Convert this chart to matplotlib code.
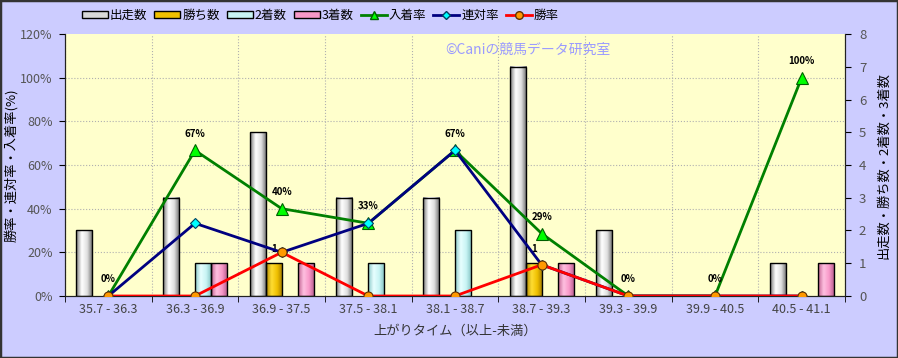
import numpy as np
import matplotlib
matplotlib.use('Agg')
import matplotlib.pyplot as plt
from matplotlib.colors import LinearSegmentedColormap
from matplotlib.lines import Line2D
from matplotlib.patches import Patch, Rectangle

plt.rcParams['font.family'] = ['Noto Sans CJK JP', 'DejaVu Sans']

# データ（上がりタイム別成績）
categories = ['35.7 - 36.3', '36.3 - 36.9', '36.9 - 37.5', '37.5 - 38.1', '38.1 - 38.7',
              '38.7 - 39.3', '39.3 - 39.9', '39.9 - 40.5', '40.5 - 41.1']
starts = [2, 3, 5, 3, 3, 7, 2, 0, 1]
wins = [0, 0, 1, 0, 0, 1, 0, 0, 0]
seconds = [0, 1, 0, 1, 2, 0, 0, 0, 0]
thirds = [0, 1, 1, 0, 0, 1, 0, 0, 1]
place_rate = [0, 66.7, 40, 33.3, 66.7, 28.6, 0, 0, 100]
quinella_rate = [0, 33.3, 20, 33.3, 66.7, 14.3, 0, 0, 0]
win_rate = [0, 0, 20, 0, 0, 14.3, 0, 0, 0]

x = np.arange(len(categories))
w = 0.185

fig = plt.figure(figsize=(8.98, 3.58), dpi=100, facecolor='#CCCCFF')
ax = fig.add_axes([0.0724, 0.1732, 0.8686, 0.7318])
ax.set_facecolor('#FFFFCC')
ax2 = ax.twinx()

# 棒グラフ（グラデーション付き）
bar_styles = [
    (starts, -1.5, ['#7a7a7a', '#ffffff', '#e0e0e0', '#6a6a6a'], '#d8d8d8'),
    (wins, -0.5, ['#b08800', '#ffdd33', '#f0c000', '#a07800'], '#f0c000'),
    (seconds, 0.5, ['#88c8c8', '#e8ffff', '#c8f4f4', '#80c0c0'], '#c8f4f4'),
    (thirds, 1.5, ['#c06090', '#ffc0e0', '#f898c8', '#b05888'], '#f898c8'),
]
grad = np.linspace(0, 1, 64).reshape(1, -1)
for vals, off, stops, _ in bar_styles:
    cmap = LinearSegmentedColormap.from_list('g', stops)
    bars = ax.bar(x + off * w, vals, width=w, facecolor='none', edgecolor='black',
                  linewidth=1.0, zorder=3)
    for b in bars:
        h = b.get_height()
        if h <= 0:
            b.set_visible(False)
            continue
        ax.imshow(grad, cmap=cmap, aspect='auto', interpolation='bicubic', zorder=2.5,
                  extent=[b.get_x(), b.get_x() + b.get_width(), 0, h])

# 勝ち数のラベル
for xi, v in zip(x, wins):
    if v > 0:
        ax.annotate(str(v), (xi - 0.5 * w, v), xytext=(0, 7), textcoords='offset points',
                    ha='center', va='bottom', fontsize=7, fontweight='bold')

# グリッド
for p in range(20, 120, 20):
    ax.axhline(p * 8 / 120, color='#b0b0b0', linestyle=':', linewidth=0.8, zorder=1)
ax.set_xticks(np.arange(-0.5, len(categories), 1), minor=True)
ax.grid(which='minor', axis='x', color='#b0b0b0', linestyle=':', linewidth=0.8, zorder=1)

ax.set_xlim(-0.5, len(categories) - 0.5)
ax.set_ylim(0, 8)

# 折れ線（率）
ax2.plot(x, place_rate, color='#008000', linewidth=2, marker='^', markersize=8,
         markerfacecolor='#00ff00', markeredgecolor='#006000', markeredgewidth=0.8, zorder=3)
ax2.plot(x, quinella_rate, color='#000080', linewidth=2, marker='D', markersize=5,
         markerfacecolor='#00ffff', markeredgecolor='#004060', markeredgewidth=0.8, zorder=4)
ax2.plot(x, win_rate, color='#ff0000', linewidth=2, marker='o', markersize=6.5,
         markerfacecolor='#ff9900', markeredgecolor='#603000', markeredgewidth=0.8, zorder=5)
for xi, v in zip(x, place_rate):
    ax2.annotate(f'{v:.0f}%', (xi, v), xytext=(0, 8.5), textcoords='offset points',
                 ha='center', va='bottom', fontsize=7, fontweight='bold')
ax2.set_ylim(0, 120)
ax2.set_xlim(-0.5, len(categories) - 0.5)

# 軸の設定（左：率、右：頭数）
ax.yaxis.tick_right()
ax.yaxis.set_label_position('right')
ax2.yaxis.tick_left()
ax2.yaxis.set_label_position('left')
ax.set_yticks(range(0, 9))
ax2.set_yticks(range(0, 121, 20))
ax2.set_yticklabels([f'{v}%' for v in range(0, 121, 20)])
ax.set_xticks(x)
ax.set_xticklabels(categories)
ax.tick_params(axis='x', which='major', length=0, labelsize=9, labelcolor='#444444', pad=5)
ax.tick_params(axis='x', which='minor', length=4, direction='out')
ax.tick_params(axis='y', length=4, direction='out', labelsize=9.5, labelcolor='#555555', pad=6)
ax2.tick_params(axis='y', length=4, direction='out', labelsize=9, labelcolor='#555555', pad=5)
for a in (ax, ax2):
    a.spines['top'].set_visible(False)
    for s in ('left', 'right', 'bottom'):
        a.spines[s].set_color('#222222')

ax2.set_ylabel('勝率・連対率・入着率(%)', fontsize=9.5, labelpad=1)
ax.set_ylabel('出走数・勝ち数・2着数・3着数', fontsize=9.5, labelpad=8)
ax.set_xlabel('上がりタイム（以上-未満）', fontsize=9.5, color='#333333', labelpad=6)

ax2.text(0.487, 0.939, '©Caniの競馬データ研究室', transform=ax2.transAxes, fontsize=10,
         color='#9a9aff', ha='left', va='center')

# 凡例
handles = [Patch(facecolor=s[3], edgecolor='black', linewidth=1) for s in bar_styles]
handles += [
    Line2D([], [], color='#008000', linewidth=2, marker='^', markersize=6,
           markerfacecolor='#00ff00', markeredgecolor='#006000'),
    Line2D([], [], color='#000080', linewidth=2, marker='D', markersize=4,
           markerfacecolor='#00ffff', markeredgecolor='#004060'),
    Line2D([], [], color='#ff0000', linewidth=2, marker='o', markersize=5.5,
           markerfacecolor='#ff9900', markeredgecolor='#603000'),
]
labels = ['出走数', '勝ち数', '2着数', '3着数', '入着率', '連対率', '勝率']
fig.legend(handles, labels, loc='center left', bbox_to_anchor=(0.091, 0.958), ncol=7,
           frameon=False, fontsize=9, handlelength=2.1, handleheight=0.5,
           handletextpad=0.15, columnspacing=0.55, borderaxespad=0, borderpad=0)

fig.patches.append(Rectangle((0, 0), 1, 1, transform=fig.transFigure, fill=False,
                             edgecolor='#333333', linewidth=2.5))

fig.savefig('out.png', dpi=100, facecolor=fig.get_facecolor())
